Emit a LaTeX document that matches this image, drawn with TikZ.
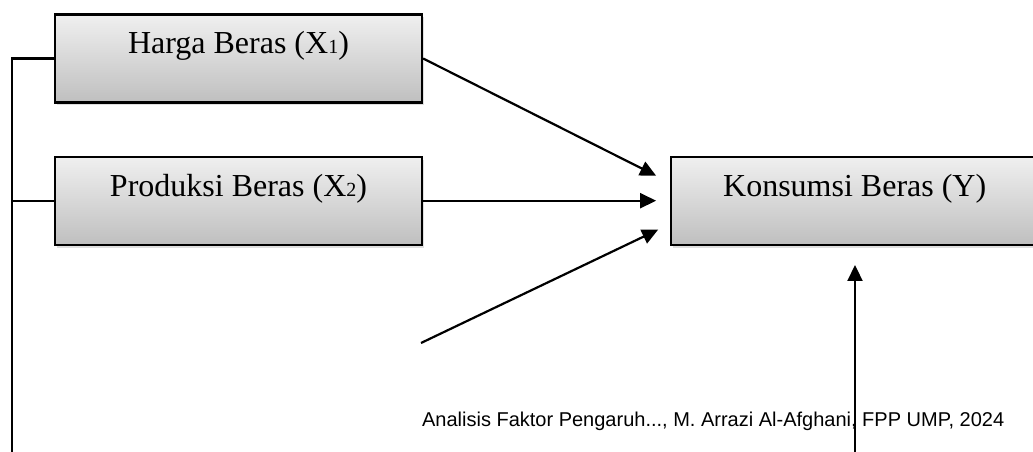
\documentclass[tikz,border=0pt]{standalone}
\usepackage{fontspec}
\setmainfont{Liberation Serif}
\setsansfont{Liberation Sans}
\usetikzlibrary{positioning, arrows.meta, shadows}

\newcommand{\kecil}[1]{{\fontsize{20}{21}\selectfont #1}}

\begin{document}
\begin{tikzpicture}[x=1pt, y=1pt, line width=2.2pt,
  every node/.style={font=\fontsize{32}{38}\selectfont},
  varbox/.style={draw, rectangle, top color=gray!12, bottom color=gray!50,
    minimum width=367pt, minimum height=88pt, text height=23pt, text depth=32pt,
    drop shadow={opacity=0.25, shadow xshift=2pt, shadow yshift=-3pt}},
  panah/.style={-{Triangle[length=16pt, width=15pt]}}]
\useasboundingbox (0,0) rectangle (1033,452);

\node (harga) [varbox] at (238.5,393.5) {Harga Beras (X\kecil{1})};
\node (produksi) [below=52pt of harga, varbox] {Produksi Beras (X\kecil{2})};
\node (konsumsi) [right=247pt of produksi, varbox] {Konsumsi Beras (Y)};

\node (catatan) [anchor=base west, inner sep=0pt, font=\sffamily\fontsize{20}{24}\selectfont]
  at (421,25) {Analisis Faktor Pengaruh..., M. Arrazi Al-Afghani, FPP UMP, 2024};

% garis kiri
\coordinate (kiri) at (12,-5);
\draw (harga.west) -| (kiri);
\draw (produksi.west) -- (produksi.west -| kiri);

% panah ke Y
\coordinate (ujung3) at (421,109);
\coordinate (ujung4) at (855,-5);
\coordinate (atas4) at (855,187);
\draw[panah] (harga.east) -- ([xshift=-14pt, yshift=25pt]konsumsi.west);
\draw[panah] (produksi.east) -- ([xshift=-14pt]konsumsi.west);
\draw[panah] (ujung3) -- ([xshift=-12pt, yshift=-29pt]konsumsi.west);
\draw[panah] (ujung4) -- (atas4);
\end{tikzpicture}
\end{document}
